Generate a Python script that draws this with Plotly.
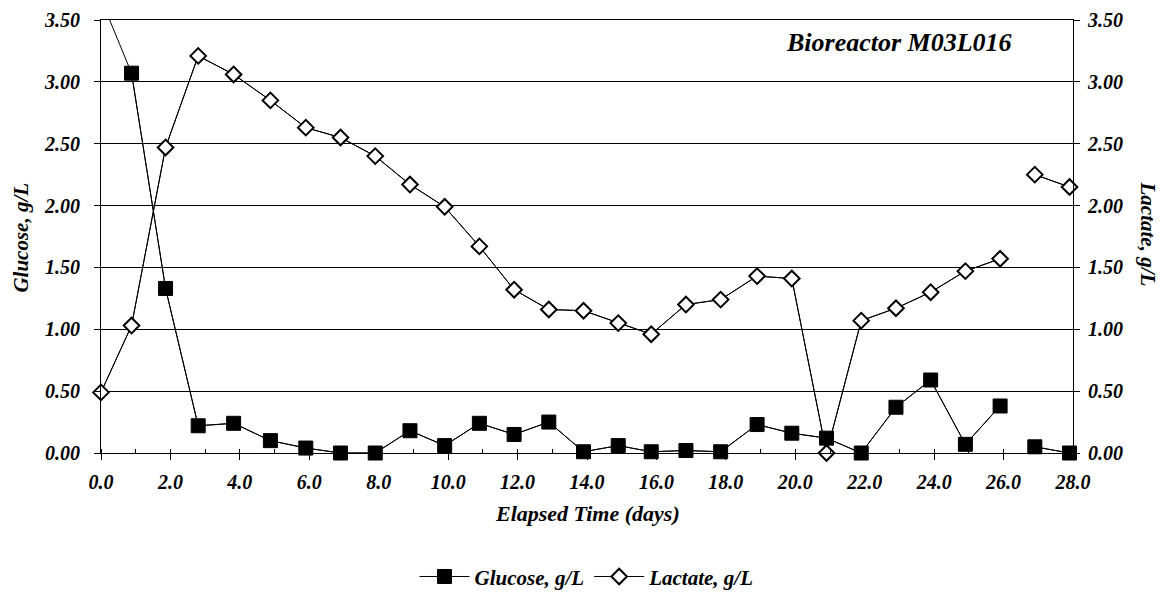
import plotly.graph_objects as go

# Elapsed time (days)
days = [0.0, 0.88, 1.86, 2.8, 3.82, 4.88, 5.9, 6.9, 7.9, 8.9, 9.9, 10.9, 11.9, 12.9,
        13.9, 14.9, 15.85, 16.85, 17.85, 18.9, 19.9, 20.9, 21.9, 22.9, 23.9, 24.9,
        25.9, 26.4, 26.9, 27.9, 28.9]
# Glucose, g/L (first point is above the axis maximum)
glucose = [3.67, 3.07, 1.33, 0.22, 0.24, 0.10, 0.04, 0.00, 0.00, 0.18, 0.06, 0.24, 0.15, 0.25,
           0.01, 0.06, 0.01, 0.02, 0.01, 0.23, 0.16, 0.12, 0.00, 0.37, 0.59, 0.07,
           0.38, None, 0.05, 0.00, 0.40]
# Lactate, g/L
lactate = [0.49, 1.03, 2.47, 3.21, 3.06, 2.85, 2.63, 2.55, 2.40, 2.17, 1.99, 1.67, 1.32, 1.16,
           1.15, 1.05, 0.96, 1.20, 1.24, 1.43, 1.41, 0.00, 1.07, 1.17, 1.30, 1.47,
           1.57, None, 2.25, 2.15, 2.05]

x_ticks = [0, 2, 4, 6, 8, 10, 12, 14, 16, 18, 20, 22, 24, 26, 28]
y_ticks = [0, 0.5, 1.0, 1.5, 2.0, 2.5, 3.0, 3.5]

X_MAX = 28
Y_MAX = 3.5

FONT = "Liberation Serif, Times New Roman, serif"


def bi(size):
    return dict(family=FONT, size=size, color="black", weight="bold", style="italic")


def visible(xs, ys):
    """points inside the axis ranges (gaps kept)"""
    px, py = [], []
    for x, y in zip(xs, ys):
        if y is None or (x <= X_MAX and y <= Y_MAX):
            px.append(x)
            py.append(y)
    return px, py


fig = go.Figure()
# full connecting lines (clipped to the plot area)
fig.add_trace(go.Scatter(x=days, y=glucose, mode="lines", showlegend=False, hoverinfo="skip",
                         line=dict(color="black", width=1), connectgaps=False))
fig.add_trace(go.Scatter(x=days, y=lactate, mode="lines", showlegend=False, hoverinfo="skip",
                         yaxis="y2", line=dict(color="black", width=1), connectgaps=False))

gx, gy = visible(days, glucose)
lx, ly = visible(days, lactate)
fig.add_trace(go.Scatter(
    x=gx, y=gy, name="Glucose, g/L", mode="lines+markers",
    line=dict(color="black", width=1),
    marker=dict(symbol="square", size=14, color="black", line=dict(color="black", width=1)),
    connectgaps=False, cliponaxis=False,
))
fig.add_trace(go.Scatter(
    x=lx, y=ly, name="Lactate, g/L", mode="lines+markers", yaxis="y2",
    line=dict(color="black", width=1),
    marker=dict(symbol="diamond", size=12, color="white", line=dict(color="black", width=2)),
    connectgaps=False, cliponaxis=False,
))

fig.update_layout(
    width=1164, height=601,
    margin=dict(l=93, r=99, t=12, b=156),
    paper_bgcolor="white", plot_bgcolor="white",
    showlegend=True,
    legend=dict(orientation="h", x=0.5, xanchor="center", y=-0.286, yanchor="middle",
                font=bi(21), itemwidth=50),
    xaxis=dict(
        range=[0, X_MAX], tickvals=x_ticks, ticktext=[f"{v:.1f}" for v in x_ticks],
        showgrid=False, zeroline=False, showline=True, linecolor="black", linewidth=1,
        mirror=True, ticks="outside", ticklen=6, tickcolor="black", automargin=False,
        ticklabelstandoff=5,
        minor=dict(dtick=1, tick0=0, ticks="inside", ticklen=4, tickcolor="black", showgrid=False),
        tickfont=bi(20),
    ),
    yaxis=dict(
        range=[0, Y_MAX], tickvals=y_ticks, tickformat=".2f", automargin=False,
        showgrid=True, gridcolor="black", gridwidth=1, zeroline=False,
        showline=True, linecolor="black", linewidth=1, ticks="outside", ticklen=6,
        tickcolor="black", tickfont=bi(20), ticklabelstandoff=10,
    ),
    yaxis2=dict(
        range=[0, Y_MAX], tickvals=y_ticks, tickformat=".2f", overlaying="y", side="right",
        showgrid=False, zeroline=False, showline=True, linecolor="black", linewidth=1,
        ticks="outside", ticklen=6, tickcolor="black", tickfont=bi(20), automargin=False,
        ticklabelstandoff=4,
    ),
    annotations=[
        dict(text="Bioreactor M03L016", xref="paper", yref="paper", x=0.939, y=0.947,
             xanchor="right", yanchor="middle", showarrow=False, font=bi(26)),
        dict(text="Elapsed Time (days)", xref="paper", yref="paper", x=0.5, y=-0.139,
             xanchor="center", yanchor="middle", showarrow=False, font=bi(22)),
        dict(text="Glucose, g/L", xref="paper", yref="paper", x=-0.0825, y=0.497,
             xanchor="center", yanchor="middle", showarrow=False, textangle=-90, font=bi(21)),
        dict(text="Lactate, g/L", xref="paper", yref="paper", x=1.077, y=0.505,
             xanchor="center", yanchor="middle", showarrow=False, textangle=90, font=bi(21)),
    ],
)

fig.write_html("out.html")
